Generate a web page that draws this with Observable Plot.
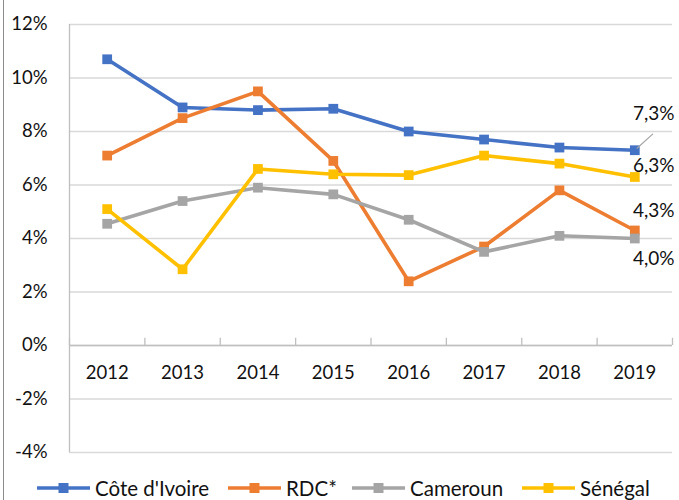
<!DOCTYPE html>
<html>
<head>
<meta charset="utf-8">
<script src="https://cdn.jsdelivr.net/npm/d3@7"></script>
<script src="https://cdn.jsdelivr.net/npm/@observablehq/plot@0.6"></script>
<style>
  html, body { margin: 0; padding: 0; background: #fff; }
  body { width: 679px; height: 500px; overflow: hidden; position: relative; font-family: Lato, "Open Sans", sans-serif; }
  #border { position: absolute; left: 3px; top: 0; width: 0; height: 500px; border-left: 1px solid #8c8c8c; }
  #chart { position: absolute; left: 0; top: 0; }
  #legend { position: absolute; left: 0; top: 476px; width: 679px; height: 28px; font-size: 20.5px; color: #111; white-space: nowrap; }
  .item { position: absolute; top: 0; display: flex; align-items: center; }
  .item svg { margin-right: 5px; }
</style>
</head>
<body>
<div id="border"></div>
<div id="chart"></div>
<div id="legend"></div>
<script>
const years = [2012, 2013, 2014, 2015, 2016, 2017, 2018, 2019];
const seriesNames = ["Côte d'Ivoire", "RDC*", "Cameroun", "Sénégal"];
const colors = ["#4472C4", "#ED7D31", "#A5A5A5", "#FFC000"];
const coteIvoire = [10.7, 8.9, 8.8, 8.85, 8.0, 7.7, 7.4, 7.3];
const rdc = [7.1, 8.5, 9.5, 6.9, 2.4, 3.7, 5.8, 4.3];
const cameroun = [4.55, 5.4, 5.9, 5.65, 4.7, 3.5, 4.1, 4.0];
const senegal = [5.1, 2.85, 6.6, 6.4, 6.37, 7.1, 6.8, 6.3];
const yTicks = [-4, -2, 0, 2, 4, 6, 8, 10, 12];
const endLabels = ["7,3%", "4,3%", "4,0%", "6,3%"];

const allValues = [coteIvoire, rdc, cameroun, senegal];
const rows = [];
allValues.forEach((vals, s) => vals.forEach((v, i) => rows.push({series: seriesNames[s], year: years[i], value: v})));
const bounds = years.map(y => y - 0.5).concat([years[years.length - 1] + 0.5]);
const last = allValues.map((vals, s) => ({series: seriesNames[s], year: years[years.length - 1], value: vals[vals.length - 1], label: endLabels[s]}));
const labelOffsets = [[19, -36], [19, -20], [19, 20], [19, -11]];
const legendLeft = [37, 228, 352, 522];

const marks = [
  Plot.gridY(yTicks, {stroke: "#d9d9d9", strokeOpacity: 1, strokeWidth: 1.3}),
  Plot.ruleX([bounds[0]], {y1: yTicks[0], y2: yTicks[yTicks.length - 1], stroke: "#bfbfbf", strokeWidth: 1.3}),
  Plot.ruleY([0], {stroke: "#bfbfbf", strokeWidth: 1.3}),
  Plot.ruleX(bounds, {y1: 0, y2: 0.27, stroke: "#bfbfbf", strokeWidth: 1.3}),
  Plot.text(years, {x: d => d, y: 0, dy: 28, text: d => String(d), fontSize: 18.5, fill: "#111"}),
  Plot.axisY(yTicks, {tickFormat: d => d + "%", tickSize: 0, tickPadding: 22, fontSize: 18.5, fill: "#111", label: null})
];
seriesNames.forEach((name, s) => {
  const data = rows.filter(r => r.series === name);
  marks.push(Plot.line(data, {x: "year", y: "value", stroke: colors[s], strokeWidth: 3.6}));
  marks.push(Plot.dot(data, {x: "year", y: "value", symbol: "square", r: 5.5, fill: colors[s], stroke: "none"}));
});
marks.push(Plot.vector([last[0]], {x: "year", y: "value", length: 24, rotate: 48, anchor: "start", stroke: "#a5a5a5", strokeWidth: 1.2,
  shape: {draw(context, l) { context.moveTo(0, -3); context.lineTo(0, -l); }}}));
last.forEach((d, s) => {
  marks.push(Plot.text([d], {x: "year", y: "value", text: "label", dx: labelOffsets[s][0], dy: labelOffsets[s][1], fontSize: 19, fill: "#111"}));
});

const chart = Plot.plot({
  width: 679,
  height: 472,
  marginLeft: 69,
  marginRight: 7,
  marginTop: 24,
  marginBottom: 20,
  x: {domain: [bounds[0], bounds[bounds.length - 1]], axis: null},
  y: {domain: [yTicks[0], yTicks[yTicks.length - 1]]},
  style: {fontFamily: "Lato, 'Open Sans', sans-serif", overflow: "visible"},
  marks
});
document.getElementById("chart").appendChild(chart);

const legend = document.getElementById("legend");
seriesNames.forEach((name, s) => {
  const item = document.createElement("div");
  item.className = "item";
  item.style.left = legendLeft[s] + "px";
  item.innerHTML = `<svg width="53" height="12"><line x1="0" y1="6" x2="53" y2="6" stroke="${colors[s]}" stroke-width="3.6"/><rect x="21.5" y="1" width="10" height="10" fill="${colors[s]}"/></svg><span>${name}</span>`;
  legend.appendChild(item);
});
</script>
</body>
</html>
